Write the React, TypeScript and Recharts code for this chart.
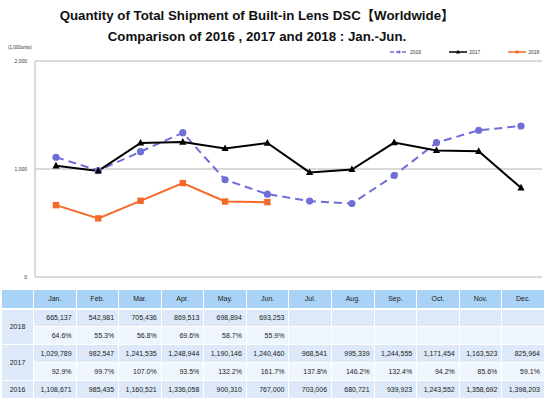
import { LineChart, Line, XAxis, YAxis, CartesianGrid } from 'recharts'

const months = ['Jan.', 'Feb.', 'Mar.', 'Apr.', 'May.', 'Jun.', 'Jul.', 'Aug.', 'Sep.', 'Oct.', 'Nov.', 'Dec.']
const ship2018 = [665137, 542981, 705436, 869513, 698894, 693253]
const ship2017 = [1029789, 982547, 1241535, 1248944, 1190146, 1240460, 968541, 995339, 1244555, 1171454, 1163523, 825964]
const ship2016 = [1108671, 985435, 1160521, 1336058, 900310, 767000, 703006, 680721, 939923, 1243552, 1358692, 1398203]
const ratio2018 = ['64.6%', '55.3%', '56.8%', '69.6%', '58.7%', '55.9%']
const ratio2017 = ['92.9%', '99.7%', '107.0%', '93.5%', '132.2%', '161.7%', '137.8%', '146.2%', '132.4%', '94.2%', '85.6%', '59.1%']
const yTicks = [0, 1000, 2000]

const C2016 = '#6e6ed6'
const C2017 = '#000000'
const C2018 = '#f4692a'

const data = months.map((m, i) => ({
  month: m,
  y2016: ship2016[i] / 1000,
  y2017: ship2017[i] / 1000,
  y2018: ship2018[i] != null ? ship2018[i] / 1000 : null,
}))

const fmt = (v: number | undefined) => (v == null ? '' : v.toLocaleString('en-US'))

const Triangle = (props: any) => {
  const { cx, cy } = props
  if (cx == null || cy == null) return null
  return <polygon points={`${cx},${cy - 4} ${cx - 3.6},${cy + 2.6} ${cx + 3.6},${cy + 2.6}`} fill={C2017} />
}

const Square = (props: any) => {
  const { cx, cy } = props
  if (cx == null || cy == null) return null
  return <rect x={cx - 3.2} y={cy - 3.2} width={6.4} height={6.4} fill={C2018} />
}

const font = '"Liberation Sans", "DejaVu Sans", sans-serif'

const cellBase: React.CSSProperties = {
  border: '1px solid #fff',
  padding: '0 4px',
  fontSize: 7,
  fontFamily: font,
  color: '#222',
  whiteSpace: 'nowrap',
}

function LegendItem({ color, dash, label, marker }: { color: string; dash?: string; label: string; marker: 'circle' | 'tri' | 'sq' }) {
  return (
    <div style={{ display: 'flex', alignItems: 'center', marginLeft: 28 }}>
      <svg width={18} height={6}>
        <line x1={0} y1={3} x2={18} y2={3} stroke={color} strokeWidth={1.5} strokeDasharray={dash} />
        {marker === 'circle' && <circle cx={9} cy={3} r={1.6} fill={color} />}
        {marker === 'tri' && <polygon points="9,0.8 11,4.5 7,4.5" fill={color} />}
        {marker === 'sq' && <rect x={7.5} y={1.5} width={3} height={3} fill={color} />}
      </svg>
      <span style={{ fontSize: 5, marginLeft: 2, color: '#333' }}>{label}</span>
    </div>
  )
}

export default function App() {
  return (
    <div style={{ position: 'absolute', left: 0, top: 0, width: 550, height: 399, background: '#fff', fontFamily: font, overflow: 'hidden' }}>
      <div
        style={{
          position: 'absolute',
          left: 0,
          top: 5,
          width: 514,
          textAlign: 'center',
          fontFamily: '"Liberation Sans", "Noto Sans CJK JP", sans-serif',
          fontWeight: 700,
          fontSize: 13.3,
          lineHeight: '21px',
          color: '#111',
        }}
      >
        <div>Quantity of Total Shipment of Built-in Lens DSC【Worldwide】</div>
        <div>Comparison of 2016 , 2017 and 2018 : Jan.-Jun.</div>
      </div>
      <div style={{ position: 'absolute', left: 8, top: 45, fontSize: 4.5, color: '#333' }}>(1,000units)</div>
      <div style={{ position: 'absolute', left: 362, top: 49, display: 'flex' }}>
        <LegendItem color={C2016} dash="4 2" label="2016" marker="circle" />
        <LegendItem color={C2017} label="2017" marker="tri" />
        <LegendItem color={C2018} label="2018" marker="sq" />
      </div>
      <div style={{ position: 'absolute', left: 0, top: 0 }}>
        <LineChart width={550} height={285} data={data} margin={{ top: 61, right: 8, left: 0, bottom: 8 }}>
          <CartesianGrid vertical={false} stroke="#b5b5b5" strokeWidth={1} />
          <XAxis
            dataKey="month"
            tick={false}
            tickLine={false}
            height={0}
            padding={{ left: 21, right: 21 }}
            axisLine={{ stroke: '#b5b5b5' }}
          />
          <YAxis
            domain={[0, 2000]}
            ticks={yTicks}
            width={35}
            tickLine={false}
            axisLine={{ stroke: '#b5b5b5' }}
            tick={{ fontSize: 5, fill: '#333' }}
            tickFormatter={(v: number) => fmt(v)}
          />
          <YAxis yAxisId="r" orientation="right" width={0} tick={false} tickLine={false} axisLine={{ stroke: '#aaaaaa', strokeWidth: 1.5 }} />
          <Line
            type="linear"
            dataKey="y2016"
            stroke={C2016}
            strokeWidth={2}
            strokeDasharray="8 5"
            dot={{ r: 3.6, fill: C2016, stroke: C2016, strokeWidth: 0 }}
            isAnimationActive={false}
          />
          <Line type="linear" dataKey="y2017" stroke={C2017} strokeWidth={2} dot={<Triangle />} isAnimationActive={false} />
          <Line type="linear" dataKey="y2018" stroke={C2018} strokeWidth={2} dot={<Square />} isAnimationActive={false} />
        </LineChart>
      </div>
      <table
        style={{
          position: 'absolute',
          left: 1,
          top: 289,
          width: 543,
          borderCollapse: 'collapse',
          tableLayout: 'fixed',
        }}
      >
        <colgroup>
          <col style={{ width: 32 }} />
          {months.map((m) => (
            <col key={m} style={{ width: 42.58 }} />
          ))}
        </colgroup>
        <tbody>
          <tr style={{ height: 19 }}>
            <td style={{ ...cellBase, background: '#a9d3f6' }} />
            {months.map((m) => (
              <td key={m} style={{ ...cellBase, background: '#a9d3f6', textAlign: 'center' }}>
                {m}
              </td>
            ))}
          </tr>
          <tr style={{ height: 18 }}>
            <td rowSpan={2} style={{ ...cellBase, background: '#dde9f8', textAlign: 'center', borderTopWidth: 2 }}>
              2018
            </td>
            {months.map((m, i) => (
              <td key={m} style={{ ...cellBase, background: '#dde9f8', textAlign: 'right', borderTopWidth: 2 }}>
                {fmt(ship2018[i])}
              </td>
            ))}
          </tr>
          <tr style={{ height: 18 }}>
            {months.map((m, i) => (
              <td key={m} style={{ ...cellBase, background: '#eef5fd', textAlign: 'right' }}>
                {ratio2018[i] ?? ''}
              </td>
            ))}
          </tr>
          <tr style={{ height: 18 }}>
            <td rowSpan={2} style={{ ...cellBase, background: '#dde9f8', textAlign: 'center' }}>
              2017
            </td>
            {months.map((m, i) => (
              <td key={m} style={{ ...cellBase, background: '#dde9f8', textAlign: 'right' }}>
                {fmt(ship2017[i])}
              </td>
            ))}
          </tr>
          <tr style={{ height: 18 }}>
            {months.map((m, i) => (
              <td key={m} style={{ ...cellBase, background: '#eef5fd', textAlign: 'right' }}>
                {ratio2017[i]}
              </td>
            ))}
          </tr>
          <tr style={{ height: 18 }}>
            <td style={{ ...cellBase, background: '#dde9f8', textAlign: 'center' }}>2016</td>
            {months.map((m, i) => (
              <td key={m} style={{ ...cellBase, background: '#dde9f8', textAlign: 'right' }}>
                {fmt(ship2016[i])}
              </td>
            ))}
          </tr>
        </tbody>
      </table>
    </div>
  )
}
